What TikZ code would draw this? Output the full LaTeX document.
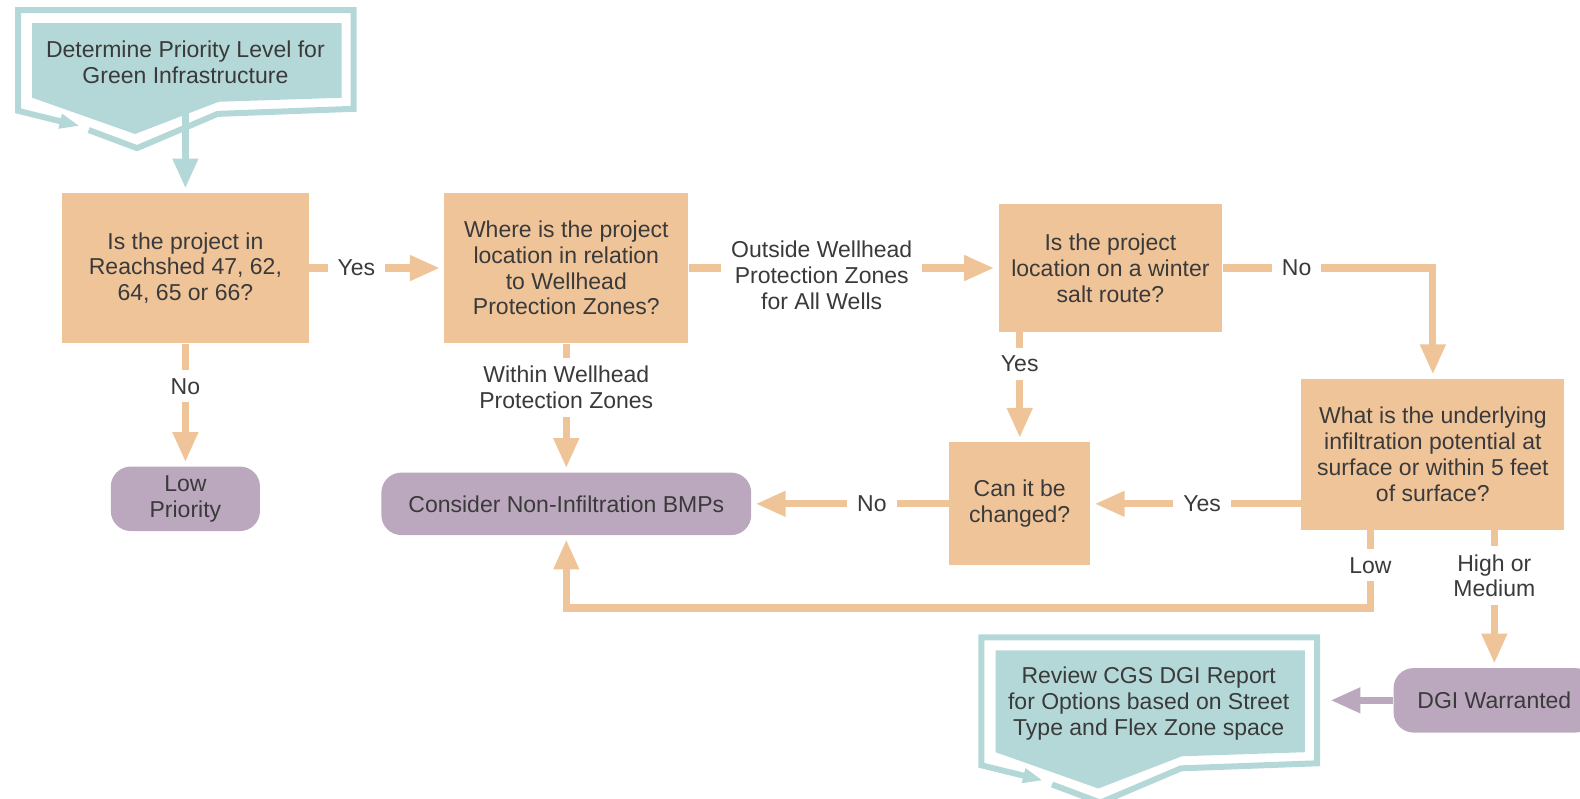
\documentclass[tikz,border=0pt]{standalone}
\usepackage{fontspec}
\setmainfont{Liberation Sans}
\usetikzlibrary{arrows.meta}
\definecolor{boxorange}{HTML}{F0C499}
\definecolor{termpurple}{HTML}{BBA8BE}
\definecolor{capteal}{HTML}{B4D8D7}
\definecolor{inkgray}{HTML}{3A3A3A}
\newcommand{\pxu}{0.5038pt}
\tikzset{ every node/.style={font=\fontsize{11.5}{12.9}\selectfont,text=inkgray,align=center,inner sep=0pt},
  question/.style={fill=boxorange},
  terminal/.style={fill=termpurple,rounded corners=10pt},
  lab/.style={fill=white,inner xsep=5pt,inner ysep=4pt},
  flow/.style={draw=boxorange,line width=3.6pt,-{Triangle[length=15pt,width=12pt]},shorten >=2pt}}
% teal start/end shape: #1 centre, #2 extra half height
\newcommand{\capshape}[2]{%
  \begin{scope}[shift={#1}]
    \fill[capteal] (-152,-39-#2) -- (155,-39-#2) -- (155,35+#2) -- (33,39+#2) -- (-50,71+#2) -- (-152,35+#2) -- cycle;
    \draw[capteal,line width=3pt,-{Triangle[length=10pt,width=7pt]}] (-96,67+#2) -- (-48,85+#2) -- (32,51+#2) -- (167,46+#2)
      -- (167,-52-#2) -- (-166,-52-#2) -- (-166,48+#2) -- (-105,63+#2);
  \end{scope}}

\begin{document}
\begin{tikzpicture}[x=0.5038pt,y=-0.5038pt]
\useasboundingbox (0,0) rectangle (1568,792);
  \capshape{(184,62)}{0}
  \capshape{(1140,698)}{13.5}
  \node (start) at (184,62) {Determine Priority Level for\\Green Infrastructure};
  \node[minimum width=352*\pxu] (review) at (1140,698) {Review CGS DGI Report\\for Options based on Street\\Type and Flex Zone space};

  \node[question,minimum width=245*\pxu,minimum height=149*\pxu] (reach) at (184,266) {Is the project in\\Reachshed 47, 62,\\64, 65 or 66?};
  \node[question,minimum width=242*\pxu,minimum height=149*\pxu] (wellhead) at (562,266) {Where is the project\\location in relation\\to Wellhead\\Protection Zones?};
  \node[question,minimum width=222*\pxu,minimum height=127*\pxu] (saltroute) at (1102,266) {Is the project\\location on a winter\\salt route?};
  \node[question,minimum width=261*\pxu,minimum height=150*\pxu] (infil) at (1422,451) {What is the underlying\\infiltration potential at\\surface or within 5 feet\\of surface?};
  \node[question,minimum width=140*\pxu,minimum height=122*\pxu] (change) at (1012,500) {Can it be\\changed?};
  \node[terminal,minimum width=148*\pxu,minimum height=64*\pxu] (low) at (184,495) {Low\\Priority};
  \node[terminal,minimum width=367*\pxu,minimum height=62*\pxu] (nonbmp) at (562,500) {Consider Non-Infiltration BMPs};
  \node[terminal,minimum width=200*\pxu,minimum height=64*\pxu] (dgi) at (1483,695) {DGI Warranted};

  \draw[flow,draw=capteal] (start) -- (reach);
  \foreach \from/\to/\lab/\p/\dy in {reach/wellhead/Yes/0.35/0, reach/low/No/0.35/0,
      wellhead/saltroute/{Outside Wellhead\\Protection Zones\\for All Wells}/0.43/7,
      wellhead/nonbmp/{Within Wellhead\\Protection Zones}/0.34/0, change/nonbmp/No/0.39/0}
    \draw[flow] (\from) -- node[lab,pos=\p,yshift=-\dy*\pxu] {\lab} (\to);
  \draw[flow] (saltroute) -| node[lab,pos=0.176] {No} (infil);
  \draw[flow] (saltroute.south -| change) -- node[lab,pos=0.29] {Yes} (change);
  \draw[flow] (infil.west |- change) -- node[lab,pos=0.47] {Yes} (change);
  \draw[flow] ([shift={(-62,0)}]infil.south) -- node[lab,pos=0.45] {Low} ++(0,77) -| (nonbmp);
  \draw[flow] (dgi.north |- infil.south) -- node[lab,pos=0.33] {High or\\Medium} (dgi);
  \draw[flow,draw=termpurple] (dgi) -- (dgi -| review.east);
\end{tikzpicture}
\end{document}
